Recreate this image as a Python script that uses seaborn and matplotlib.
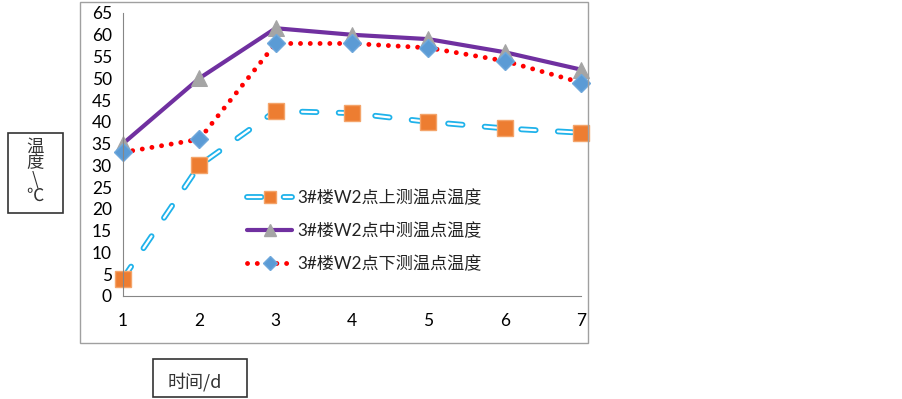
import numpy as np
import pandas as pd
import matplotlib
matplotlib.use("Agg")
import matplotlib.pyplot as plt
import matplotlib.patheffects as pe
from matplotlib.patches import Rectangle
from matplotlib.lines import Line2D
import seaborn as sns

# 数据
days = [1, 2, 3, 4, 5, 6, 7]
upper = [4, 30, 42.5, 42, 40, 38.5, 37.5]
middle = [35, 50, 61.5, 60, 59, 56, 52]
lower = [33, 36, 58, 58, 57, 54, 49]
labels = ["3#楼W2点上测温点温度", "3#楼W2点中测温点温度", "3#楼W2点下测温点温度"]
y_ticks = list(range(0, 70, 5))

sns.set_theme(style="white")
plt.rcParams["font.family"] = ["Lato", "Noto Sans CJK SC", "DejaVu Sans"]

W, H = 903, 399
fig = plt.figure(figsize=(W / 100, H / 100), dpi=100)

def px(x0, y0, x1, y1):
    # 像素坐标 -> figure 坐标
    return [x0 / W, 1 - y1 / H, (x1 - x0) / W, (y1 - y0) / H]

ax = fig.add_axes(px(123, 13, 581, 296))

grey = "#868686"
blue_dash = "#1FB2EA"
up_style = dict(color="white", lw=1.6, linestyle=(0, (6.5, 10)), dash_capstyle="round",
                path_effects=[pe.Stroke(linewidth=4.2, foreground=blue_dash), pe.Normal()])
mid_style = dict(color="#7030A0", lw=3)
low_style = dict(color="#FF0000", lw=3.5, linestyle=(0, (0.01, 2)), dash_capstyle="round")
sq_style = dict(marker="s", markerfacecolor="#ED7D31", markeredgecolor="#F4A46A",
                markeredgewidth=1)
tri_style = dict(marker="^", markerfacecolor="#A5A5A5", markeredgecolor="#A5A5A5")
dia_style = dict(marker="D", markerfacecolor="#5B9BD5", markeredgecolor="#6FA8DC",
                 markeredgewidth=1)

# 线
sns.lineplot(x=days, y=upper, ax=ax, clip_on=False, **up_style)
sns.lineplot(x=days, y=middle, ax=ax, clip_on=False, **mid_style)
sns.lineplot(x=days, y=lower, ax=ax, clip_on=False, **low_style)

# 标记
sns.lineplot(x=days, y=upper, ax=ax, linestyle="none", markersize=11, clip_on=False, **sq_style)
sns.lineplot(x=days, y=middle, ax=ax, linestyle="none", markersize=12, clip_on=False, **tri_style)
sns.lineplot(x=days, y=lower, ax=ax, linestyle="none", markersize=9.5, clip_on=False, **dia_style)

ax.set_xlim(1, 7)
ax.set_ylim(0, 65)
ax.set_xticks(days)
ax.set_yticks(y_ticks)
ax.tick_params(axis="both", direction="out", length=5, width=0.8, color=grey,
               labelsize=12.5, labelcolor="black", pad=3)
ax.tick_params(axis="x", pad=7)
for s in ["top", "right"]:
    ax.spines[s].set_visible(False)
for s in ["left", "bottom"]:
    ax.spines[s].set_color(grey)
    ax.spines[s].set_linewidth(0.8)
ax.set_xlabel("")
ax.set_ylabel("")
ax.patch.set_alpha(0)

# 图例（代理句柄，标记小一些）
h_up = (Line2D([], [], **up_style), Line2D([], [], linestyle="none", markersize=8.5, **sq_style))
h_mid = (Line2D([], [], **mid_style), Line2D([], [], linestyle="none", markersize=9, **tri_style))
h_low = (Line2D([], [], **low_style), Line2D([], [], linestyle="none", markersize=7.5, **dia_style))
leg = ax.legend([h_up, h_mid, h_low], labels,
                loc="upper left", bbox_to_anchor=(0.238, 0.43), frameon=False,
                handlelength=2.6, labelspacing=0.95, fontsize=12.3, numpoints=1,
                handletextpad=0.3)
for t in leg.get_texts():
    t.set_family(["Lato", "Noto Sans CJK SC"])
    t.set_color("#222222")

# 外框
fig.patches.append(Rectangle((80 / W, 1 - 343 / H), 508 / W, 341 / H,
                             transform=fig.transFigure, fill=False,
                             edgecolor="#A0A0A0", lw=1))
# y 轴标题框
fig.patches.append(Rectangle((8 / W, 1 - 213 / H), 55 / W, 80 / H,
                             transform=fig.transFigure, fill=False,
                             edgecolor="#333333", lw=1.2))
cjk = ["Noto Sans CJK SC", "DejaVu Sans"]
fig.text(35 / W, 1 - 171 / H, "温\n度\n\\\n℃", ha="center", va="center", fontsize=12.5,
         family=cjk, linespacing=0.88, color="#333333")

# x 轴标题框
fig.patches.append(Rectangle((153 / W, 1 - 397 / H), 94 / W, 38 / H,
                             transform=fig.transFigure, fill=False,
                             edgecolor="#333333", lw=1.2))
fig.text(168 / W, 1 - 382 / H, "时间/d", ha="left", va="center", fontsize=13,
         family=cjk, color="#333333")

fig.savefig("out.png", dpi=100)
